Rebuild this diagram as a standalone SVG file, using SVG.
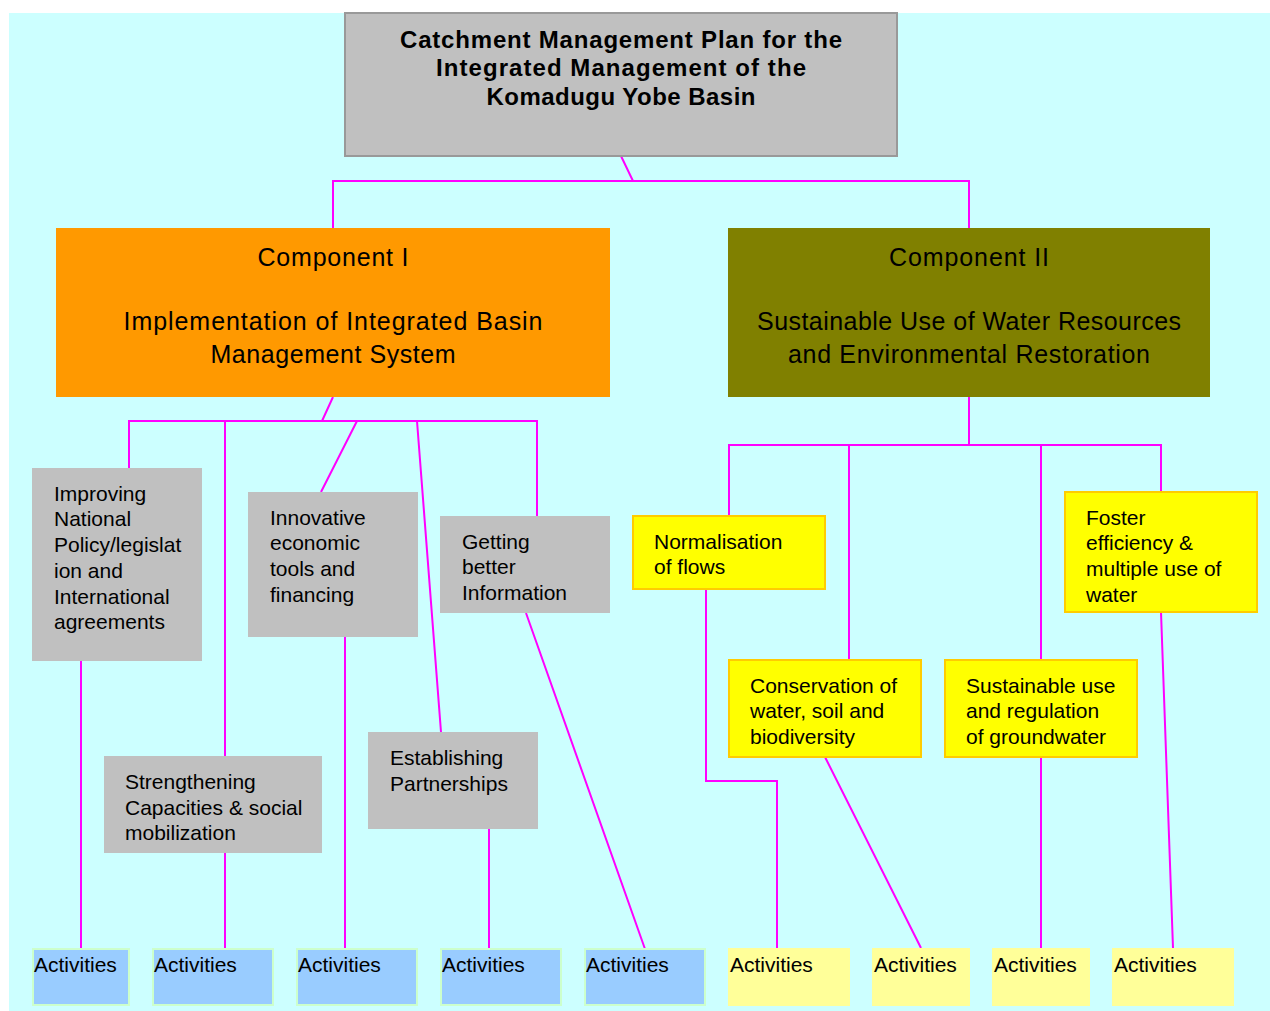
<svg xmlns="http://www.w3.org/2000/svg" width="1270" height="1011" viewBox="0 0 1270 1011">
<style>
text{font-family:"Liberation Sans",Arial,sans-serif;fill:#000}
.t{font-size:24px;font-weight:bold;text-anchor:middle}
.c{font-size:25px;text-anchor:middle}
.s{font-size:21px}
.a{font-size:21px}
.grey{fill:#C0C0C0}
.yel{fill:#FFFF00;stroke:#FFCC00;stroke-width:2}
.blue{fill:#99CCFF;stroke:#CCFFCC;stroke-width:2}
.ly{fill:#FFFF99}
#connectors path{fill:none;stroke:#FF00FF;stroke-width:2}
</style>
<rect x="0" y="0" width="1270" height="1011" fill="#FFFFFF"/>
<rect x="9" y="13" width="1261" height="998" fill="#CCFFFF"/>

<g id="connectors">
<path d="M621,156 L633,181 M333,228 V181 H969 V228"/>
<path d="M333,397 L322,421 M129,468 V421 H537 V516 M225,421 V756 M357,421 L321,492 M417,421 L441,732"/>
<path d="M969,397 V445 M729,516 V445 H1161 V492 M849,445 V660 M1041,445 V660"/>
<path d="M81,661 V949 M225,853 V949 M345,637 V949 M489,829 V949 M526,613 L645,949"/>
<path d="M706,589 V781 H777 V948 M825,757 L921,948 M1041,757 V948 M1161,612 L1173,948"/>
</g>

<g id="title">
<rect x="345" y="13" width="552" height="143" fill="#C0C0C0" stroke="#999999" stroke-width="2"/>
<text class="t" x="621" y="48" textLength="442">Catchment Management Plan for the</text>
<text class="t" x="621" y="76" textLength="370">Integrated Management of the</text>
<text class="t" x="621" y="105" textLength="269">Komadugu Yobe Basin</text>
</g>

<g id="comp1">
<rect x="56" y="228" width="554" height="169" fill="#FF9900"/>
<text class="c" x="333" y="266" textLength="151">Component I</text>
<text class="c" x="333" y="330" textLength="419">Implementation of Integrated Basin</text>
<text class="c" x="333" y="363" textLength="245">Management System</text>
</g>

<g id="comp2">
<rect x="728" y="228" width="482" height="169" fill="#808000"/>
<text class="c" x="969" y="266" textLength="160">Component II</text>
<text class="c" x="969" y="330" textLength="424">Sustainable Use of Water Resources</text>
<text class="c" x="969" y="363" textLength="362">and Environmental Restoration</text>
</g>

<g id="improving">
<rect class="grey" x="32" y="468" width="170" height="193"/>
<text class="s" x="54" y="501">Improving</text>
<text class="s" x="54" y="526">National</text>
<text class="s" x="54" y="552">Policy/legislat</text>
<text class="s" x="54" y="578">ion and</text>
<text class="s" x="54" y="604">International</text>
<text class="s" x="54" y="629">agreements</text>
</g>

<g id="innovative">
<rect class="grey" x="248" y="492" width="170" height="145"/>
<text class="s" x="270" y="525">Innovative</text>
<text class="s" x="270" y="550">economic</text>
<text class="s" x="270" y="576">tools and</text>
<text class="s" x="270" y="602">financing</text>
</g>

<g id="getting">
<rect class="grey" x="440" y="516" width="170" height="97"/>
<text class="s" x="462" y="549">Getting</text>
<text class="s" x="462" y="574">better</text>
<text class="s" x="462" y="600">Information</text>
</g>

<g id="strengthening">
<rect class="grey" x="104" y="756" width="218" height="97"/>
<text class="s" x="125" y="789">Strengthening</text>
<text class="s" x="125" y="815">Capacities &amp; social</text>
<text class="s" x="125" y="840">mobilization</text>
</g>

<g id="establishing">
<rect class="grey" x="368" y="732" width="170" height="97"/>
<text class="s" x="390" y="765">Establishing</text>
<text class="s" x="390" y="791">Partnerships</text>
</g>

<g id="normalisation">
<rect class="yel" x="633" y="516" width="192" height="73"/>
<text class="s" x="654" y="549">Normalisation</text>
<text class="s" x="654" y="574">of flows</text>
</g>

<g id="foster">
<rect class="yel" x="1065" y="492" width="192" height="120"/>
<text class="s" x="1086" y="525">Foster</text>
<text class="s" x="1086" y="550">efficiency &amp;</text>
<text class="s" x="1086" y="576">multiple use of</text>
<text class="s" x="1086" y="602">water</text>
</g>

<g id="conservation">
<rect class="yel" x="729" y="660" width="192" height="97"/>
<text class="s" x="750" y="693">Conservation of</text>
<text class="s" x="750" y="718">water, soil and</text>
<text class="s" x="750" y="744">biodiversity</text>
</g>

<g id="sustainable">
<rect class="yel" x="945" y="660" width="192" height="97"/>
<text class="s" x="966" y="693">Sustainable use</text>
<text class="s" x="966" y="718">and regulation</text>
<text class="s" x="966" y="744">of groundwater</text>
</g>

<g id="act1"><rect class="blue" x="33" y="949" width="96" height="56"/><text class="a" x="34" y="972">Activities</text></g>
<g id="act2"><rect class="blue" x="153" y="949" width="120" height="56"/><text class="a" x="154" y="972">Activities</text></g>
<g id="act3"><rect class="blue" x="297" y="949" width="120" height="56"/><text class="a" x="298" y="972">Activities</text></g>
<g id="act4"><rect class="blue" x="441" y="949" width="120" height="56"/><text class="a" x="442" y="972">Activities</text></g>
<g id="act5"><rect class="blue" x="585" y="949" width="120" height="56"/><text class="a" x="586" y="972">Activities</text></g>
<g id="act6"><rect class="ly" x="728" y="948" width="122" height="58"/><text class="a" x="730" y="972">Activities</text></g>
<g id="act7"><rect class="ly" x="872" y="948" width="98" height="58"/><text class="a" x="874" y="972">Activities</text></g>
<g id="act8"><rect class="ly" x="992" y="948" width="98" height="58"/><text class="a" x="994" y="972">Activities</text></g>
<g id="act9"><rect class="ly" x="1112" y="948" width="122" height="58"/><text class="a" x="1114" y="972">Activities</text></g>
</svg>
